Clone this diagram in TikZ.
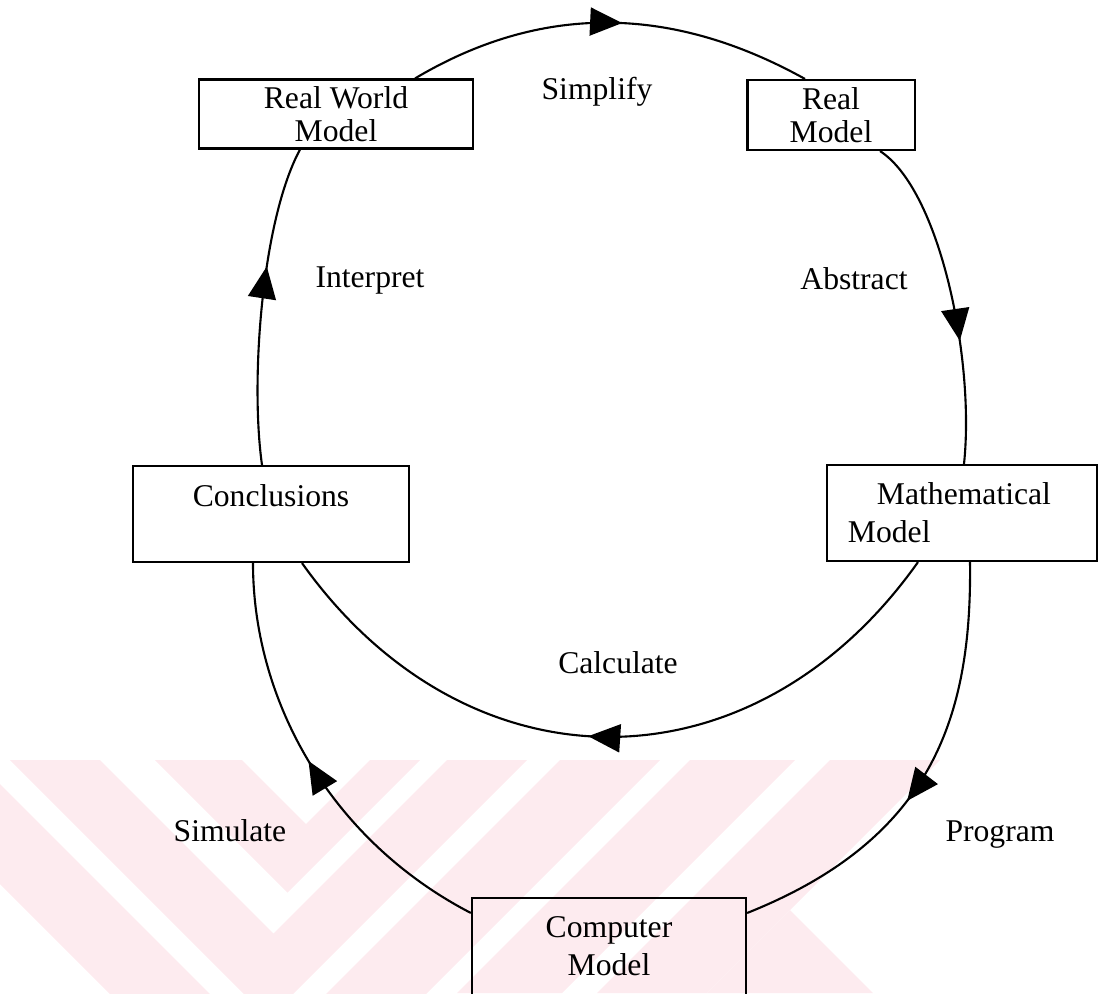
\documentclass[tikz,border=0pt]{standalone}
\usepackage{fontspec}
\setmainfont{Liberation Serif}
\usetikzlibrary{arrows.meta, decorations.markings}
\definecolor{wmpink}{RGB}{253,235,239}

\begin{document}
\begin{tikzpicture}[
  x=0.01cm, y=-0.01cm,
  font=\fontsize{9}{10.8}\selectfont,
  box/.style={draw, line width=0.6pt, inner sep=0pt, align=center},
  flow/.style={line width=0.6pt},
  midarrow/.style={flow, postaction={decorate}, decoration={markings,
      mark=at position #1 with {\arrow{Triangle[length=0.32cm, width=0.28cm]}}}},
]
\useasboundingbox (0,0) rectangle (1100,993);

% watermark stripes
\begin{scope}
\clip (0,760) rectangle (1100,993);
\fill[wmpink] (155,760) -- (287.5,892.5) -- (420,760) -- (370,760) -- (306,824) -- (242,760) -- cycle;
\fill[wmpink] (10,760) -- (268.5,1018.5) -- (527,760) -- (447,760) -- (273.5,933.5) -- (100,760) -- cycle;
\fill[wmpink] (-124,760) -- (268,1152) -- (660,760) -- (560,760) -- (268,1052) -- (-24,760) -- cycle;
\fill[wmpink] (690,760) -- (795,760) -- (562,993) -- (457,993) -- cycle;
\fill[wmpink] (830,760) -- (940,760) -- (707,993) -- (597,993) -- cycle;
\fill[wmpink] (790,910) -- (873,993) -- (707,993) -- cycle;
\end{scope}

% boxes
\node[box, minimum width=2.73cm, minimum height=0.69cm] (rwm) at (336,114) {Real World\\[-0.05cm]Model};
\node[box, minimum width=1.67cm, minimum height=0.70cm] (rm) at (831,115) {Real\\[-0.05cm]Model};
\node[box, minimum width=2.76cm, minimum height=0.96cm] (conc) at (271,514) {Conclusions\\\mbox{}};
\node[box, inner xsep=0.21cm, text width=2.28cm, align=left, minimum height=0.96cm] (math) at (962,513)
  {\hspace*{0.29cm}Mathematical\\Model};
\node[box, minimum width=2.74cm, minimum height=1.34cm] (comp) at (609,965) {Computer\\Model\\\mbox{}};

% labels
\node (simplify) at (597,92) {Simplify};
\node (interpret) at (370,280) {Interpret};
\node (abstract) at (854,279) {Abstract};
\node (calculate) at (618,663) {Calculate};
\node (simulate) at (230,831) {Simulate};
\node (program) at (1000,835) {Program};

% cycle
\draw[midarrow=0.53] ([xshift=0.79cm]rwm.north) .. controls (540,4) and (670,4) .. ([xshift=-0.26cm]rm.north);
\draw[midarrow=0.63] ([xshift=0.49cm]rm.south) .. controls (940,190) and (975,360) .. ([xshift=0.02cm]math.north);
\draw[midarrow=0.53] ([xshift=-0.44cm]math.south) .. controls (753,795) and (467,795) .. ([xshift=0.31cm]conc.south);
\draw[midarrow=0.56] ([xshift=0.08cm]math.south) .. controls (972,720) and (930,840) .. ([yshift=0.52cm]comp.east);
\draw[midarrow=0.52] ([yshift=0.52cm]comp.west) .. controls (330,840) and (253,700) .. ([xshift=-0.18cm]conc.south);
\draw[midarrow=0.62] ([xshift=-0.09cm]conc.north) .. controls (250,380) and (262,220) .. ([xshift=-0.36cm]rwm.south);
\end{tikzpicture}
\end{document}
